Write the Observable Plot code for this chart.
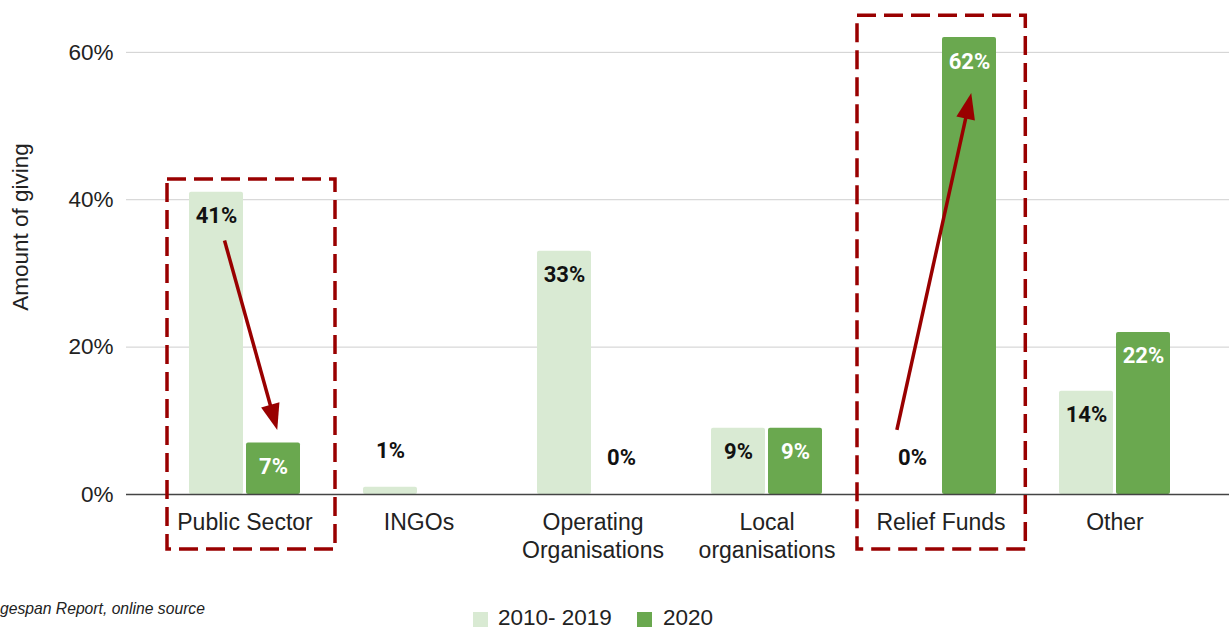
<!DOCTYPE html>
<html>
<head>
<meta charset="utf-8">
<script src="https://cdn.jsdelivr.net/npm/d3@7"></script>
<script src="https://cdn.jsdelivr.net/npm/@observablehq/plot@0.6"></script>
<style>
  html, body { margin: 0; padding: 0; background: #fff; }
  #wrap { position: relative; width: 1229px; height: 631px; overflow: hidden; font-family: 'Liberation Sans', Arial, sans-serif; }
  #wrap svg { display: block; }
  .caption { position: absolute; left: 0; top: 600px; font-style: italic; font-size: 15.7px; line-height: 18px; color: #222; white-space: nowrap; }
  .sw { position: absolute; top: 612px; width: 15px; height: 15px; }
  .lt { position: absolute; top: 608px; font-size: 22.5px; line-height: 20px; color: #222; white-space: nowrap; }
</style>
</head>
<body>
<div id="wrap"></div>
<script>
// ---- data ----
const categories = ["Public Sector", "INGOs", "Operating Organisations", "Local organisations", "Relief Funds", "Other"];
const categoryLabels = ["Public Sector", "INGOs", "Operating\nOrganisations", "Local\norganisations", "Relief Funds", "Other"];
const seriesNames = ["2010- 2019", "2020"];
const values2010to2019 = [41, 1, 33, 9, 0, 14];
const values2020 = [7, null, 0, 9, 62, 22];
const yTicks = [0, 20, 40, 60];
const yLabel = "Amount of giving";
const captionText = "gespan Report, online source";
const seriesColors = ["#d9ead3", "#6aa84f"];

// highlight boxes (in data units: category, value range)
const boxCategories = ["Public Sector", "Relief Funds"];
const boxTop = [42.75, 64.95];
const boxBottom = [-7.46, -7.46];

// arrows (category, relative position across the group, values)
const arrowCategories = ["Public Sector", "Relief Funds"];
const arrowFromFrac = [0.32, 0.107];
const arrowFromValue = [34.4, 8.7];
const arrowToFrac = [0.795, 0.777];
const arrowToValue = [8.7, 54.4];

// ---- build table ----
const rows = categories.flatMap((c, i) => [
  {category: c, series: seriesNames[0], value: values2010to2019[i]},
  {category: c, series: seriesNames[1], value: values2020[i]}
]).filter(d => d.value != null);
const s1 = rows.filter(d => d.series === seriesNames[0]);
const s2 = rows.filter(d => d.series === seriesNames[1]);
const boxes = boxCategories.map((c, i) => ({category: c, top: boxTop[i], bottom: boxBottom[i]}));
const red = "#990000";
const labelFont = "Roboto, 'Liberation Sans', sans-serif";
const lblSize = 22;

const chart = Plot.plot({
  width: 1229,
  height: 590,
  marginLeft: 126,
  marginRight: 0,
  marginTop: 15,
  marginBottom: 96,
  style: {fontFamily: "'Liberation Sans', Arial, sans-serif", fontSize: "22.5px", color: "#222", background: "white", overflow: "visible"},
  x: {type: "band", domain: categories, range: [187, 1171], paddingInner: 0.364, paddingOuter: 0, axis: null},
  y: {domain: [0, 65], ticks: yTicks, tickFormat: d => d + "%", tickSize: 0, tickPadding: 13, label: null},
  marks: [
    Plot.ruleY(yTicks.filter(t => t !== 0), {stroke: "#cfcfcf", strokeWidth: 1}),
    Plot.barY(s1, {x: "category", y: "value", fill: seriesColors[0], insetRight: 57, rx: 2}),
    Plot.barY(s2, {x: "category", y: "value", fill: seriesColors[1], insetLeft: 57, rx: 2}),
    Plot.ruleY([0], {stroke: "#444", strokeWidth: 1.5}),
    // data labels inside bars
    Plot.text(s1.filter(d => d.value >= 5), {x: "category", y: "value", text: d => d.value + "%", dx: -28.5, dy: 24, fill: "#111", fontWeight: "bold", fontSize: lblSize, fontFamily: labelFont}),
    Plot.text(s2.filter(d => d.value >= 5), {x: "category", y: "value", text: d => d.value + "%", dx: 28.5, dy: 24, fill: "#fff", fontWeight: "bold", fontSize: lblSize, fontFamily: labelFont}),
    // data labels above small bars
    Plot.text(s1.filter(d => d.value < 5), {x: "category", y: "value", text: d => d.value + "%", dx: -28.5, dy: -36.5, fill: "#111", fontWeight: "bold", fontSize: lblSize, fontFamily: labelFont}),
    Plot.text(s2.filter(d => d.value < 5), {x: "category", y: "value", text: d => d.value + "%", dx: 28.5, dy: -36.5, fill: "#111", fontWeight: "bold", fontSize: lblSize, fontFamily: labelFont}),
    // category labels
    Plot.text(categories, {x: d => d, y: () => 0, text: (d, i) => categoryLabels[i], lineAnchor: "top", dy: 15.5, lineHeight: 1.22, fontSize: 23, fill: "#222"}),
    // y axis title
    Plot.text([yLabel], {frameAnchor: "left", textAnchor: "middle", rotate: -90, dx: -106, dy: -28, fontSize: 22.5, fill: "#222"}),
    // highlight boxes
    Plot.barY(boxes.slice(0, 1), {x: "category", y1: "bottom", y2: "top", fill: "none", stroke: red, strokeWidth: 3.5, strokeDasharray: "19,8", insetLeft: -22, insetRight: -35}),
    Plot.barY(boxes.slice(1, 2), {x: "category", y1: "bottom", y2: "top", fill: "none", stroke: red, strokeWidth: 3.5, strokeDasharray: "19,8", insetLeft: -28, insetRight: -29.3})
  ]
});

document.getElementById("wrap").appendChild(chart);

// arrows drawn with the plot's own scales
const xs = chart.scale("x"), ys = chart.scale("y");
const g = d3.select(chart).append("g").attr("class", "arrows");
arrowCategories.forEach((c, i) => {
  const x0 = xs.apply(c) + arrowFromFrac[i] * xs.bandwidth;
  const y0 = ys.apply(arrowFromValue[i]);
  const x1 = xs.apply(c) + arrowToFrac[i] * xs.bandwidth;
  const y1 = ys.apply(arrowToValue[i]);
  const len = Math.hypot(x1 - x0, y1 - y0);
  const ux = (x1 - x0) / len, uy = (y1 - y0) / len;
  const nx = -uy, ny = ux;
  const L = 26, W = 19;
  const bx = x1 - L * ux, by = y1 - L * uy;
  g.append("line")
    .attr("x1", x0).attr("y1", y0)
    .attr("x2", x1 - (L - 3) * ux).attr("y2", y1 - (L - 3) * uy)
    .attr("stroke", red).attr("stroke-width", 3.5);
  g.append("path")
    .attr("d", `M${x1},${y1}L${bx + nx * W / 2},${by + ny * W / 2}L${bx - nx * W / 2},${by - ny * W / 2}Z`)
    .attr("fill", red);
});

// caption and legend (below the svg area)
const wrap = document.getElementById("wrap");
const cap = document.createElement("div");
cap.className = "caption";
cap.textContent = captionText;
wrap.appendChild(cap);
const swLeft = [473, 637], txtLeft = [498, 663];
seriesNames.forEach((s, i) => {
  const sw = document.createElement("div");
  sw.className = "sw";
  sw.style.left = swLeft[i] + "px";
  sw.style.background = seriesColors[i];
  wrap.appendChild(sw);
  const t = document.createElement("div");
  t.className = "lt";
  t.style.left = txtLeft[i] + "px";
  t.textContent = s;
  wrap.appendChild(t);
});
</script>
</body>
</html>
